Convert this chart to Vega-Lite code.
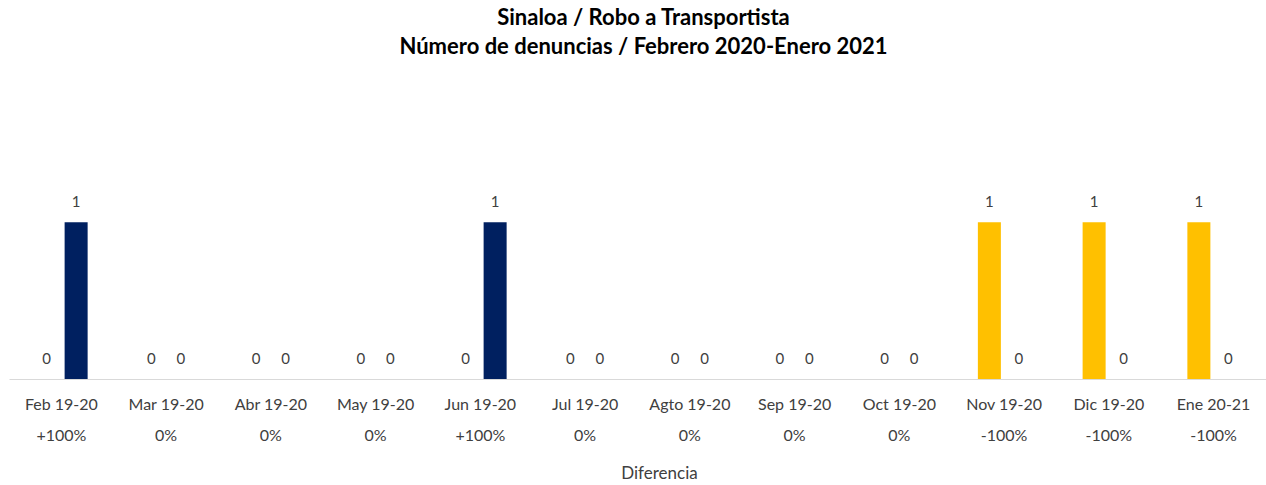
{
  "$schema": "https://vega.github.io/schema/vega-lite/v6.json",
  "width": 1257,
  "height": 300,
  "autosize": {"type": "none"},
  "padding": {"left": 9, "top": 79, "right": 0, "bottom": 106},
  "background": "white",
  "title": {
    "text": ["Sinaloa / Robo a Transportista", "Número de denuncias / Febrero 2020-Enero 2021"],
    "font": "Lato",
    "fontSize": 22,
    "fontWeight": "bold",
    "color": "#000000",
    "lineHeight": 29,
    "anchor": "middle",
    "frame": "group",
    "offset": 20,
    "dx": 6
  },
  "data": {
    "values": [
      {"mes": "Feb 19-20|+100%", "serie": "2019", "valor": 0},
      {"mes": "Feb 19-20|+100%", "serie": "2020", "valor": 1},
      {"mes": "Mar 19-20|0%", "serie": "2019", "valor": 0},
      {"mes": "Mar 19-20|0%", "serie": "2020", "valor": 0},
      {"mes": "Abr 19-20|0%", "serie": "2019", "valor": 0},
      {"mes": "Abr 19-20|0%", "serie": "2020", "valor": 0},
      {"mes": "May 19-20|0%", "serie": "2019", "valor": 0},
      {"mes": "May 19-20|0%", "serie": "2020", "valor": 0},
      {"mes": "Jun 19-20|+100%", "serie": "2019", "valor": 0},
      {"mes": "Jun 19-20|+100%", "serie": "2020", "valor": 1},
      {"mes": "Jul 19-20|0%", "serie": "2019", "valor": 0},
      {"mes": "Jul 19-20|0%", "serie": "2020", "valor": 0},
      {"mes": "Agto 19-20|0%", "serie": "2019", "valor": 0},
      {"mes": "Agto 19-20|0%", "serie": "2020", "valor": 0},
      {"mes": "Sep 19-20|0%", "serie": "2019", "valor": 0},
      {"mes": "Sep 19-20|0%", "serie": "2020", "valor": 0},
      {"mes": "Oct 19-20|0%", "serie": "2019", "valor": 0},
      {"mes": "Oct 19-20|0%", "serie": "2020", "valor": 0},
      {"mes": "Nov 19-20|-100%", "serie": "2019", "valor": 1},
      {"mes": "Nov 19-20|-100%", "serie": "2020", "valor": 0},
      {"mes": "Dic 19-20|-100%", "serie": "2019", "valor": 1},
      {"mes": "Dic 19-20|-100%", "serie": "2020", "valor": 0},
      {"mes": "Ene 20-21|-100%", "serie": "2019", "valor": 1},
      {"mes": "Ene 20-21|-100%", "serie": "2020", "valor": 0}
    ]
  },
  "encoding": {
    "x": {
      "field": "mes",
      "type": "nominal",
      "sort": null,
      "scale": {"paddingInner": 0, "paddingOuter": 0},
      "axis": {
        "labelExpr": "split(datum.label, '|')",
        "labelAngle": 0,
        "labelFont": "Lato",
        "labelFontSize": 16,
        "labelColor": "#404040",
        "labelPadding": 17,
        "labelLineHeight": 31,
        "ticks": false,
        "tickSize": 0,
        "domainColor": "#D9D9D9",
        "domainWidth": 1,
        "grid": false,
        "title": "Diferencia",
        "titleFont": "Lato",
        "titleFontSize": 17,
        "titleFontWeight": "normal",
        "titleColor": "#404040",
        "titlePadding": 22,
        "titleX": 650
      }
    },
    "xOffset": {
      "field": "serie",
      "type": "nominal",
      "scale": {"paddingInner": 0.22, "paddingOuter": 0.885}
    },
    "y": {
      "field": "valor",
      "type": "quantitative",
      "scale": {"domain": [0, 1.915], "nice": false, "zero": true},
      "axis": null
    }
  },
  "layer": [
    {
      "mark": {"type": "bar"},
      "encoding": {
        "color": {
          "field": "serie",
          "type": "nominal",
          "scale": {"domain": ["2019", "2020"], "range": ["#FFC000", "#002060"]},
          "legend": null
        }
      }
    },
    {
      "mark": {"type": "text", "font": "Lato", "fontSize": 15, "color": "#404040", "baseline": "alphabetic", "dy": -15},
      "encoding": {
        "text": {"field": "valor", "type": "quantitative"}
      }
    }
  ],
  "config": {
    "view": {"stroke": null}
  }
}
